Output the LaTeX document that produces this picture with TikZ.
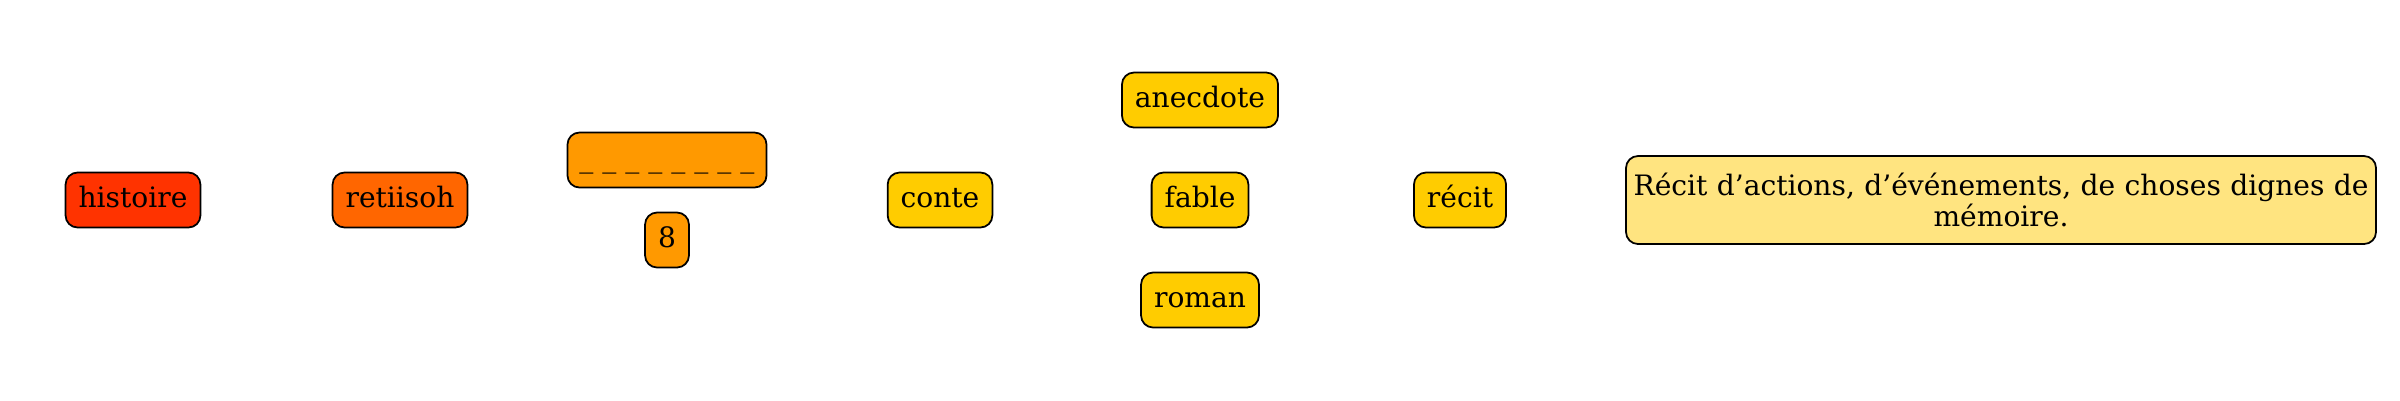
\documentclass[tikz,border=0pt]{standalone}
\usepackage{fontspec}
\setmainfont{DejaVu Serif}
\usepackage{xcolor}
\usetikzlibrary{positioning}
\definecolor{histcol}{HTML}{FF3300}
\definecolor{revcol}{HTML}{FF6600}
\definecolor{hidecol}{HTML}{FF9900}
\definecolor{wordcol}{HTML}{FFCC00}
\definecolor{defcol}{HTML}{FFE480}
\tikzset{
	basebox/.style={draw=black,line width=0.5pt,rectangle,rounded corners=0.12cm,inner ysep=0pt,font=\fontsize{8}{8.7}\selectfont},
	wordbox/.style={basebox,minimum height=0.55cm,inner xsep=0.13cm,text height=6pt,text depth=1.9pt},
}
\begin{document}
\begin{tikzpicture}
	\useasboundingbox (0,0) rectangle (24,4);
	\node (histoire) at (1.33,2) [wordbox,fill=histcol]{histoire};
	\node (retiisoh) at (4.00,2) [wordbox,fill=revcol]{retiisoh};
	\node (hidden) at (6.67,2.40) [wordbox,fill=hidecol,inner xsep=0.12cm]{\_ \_ \_ \_ \_ \_ \_ \_};
	\node (count) at (6.67,1.60) [wordbox,fill=hidecol]{8};
	\node (conte) at (9.40,2) [wordbox,fill=wordcol]{conte};
	\node (anecdote) at (12.00,3) [wordbox,fill=wordcol]{anecdote};
	\node (fable) at (12.00,2) [wordbox,fill=wordcol]{fable};
	\node (roman) at (12.00,1) [wordbox,fill=wordcol]{roman};
	\node (recit) at (14.60,2) [wordbox,fill=wordcol]{récit};
	\node (definition) at (20.01,2) [basebox,fill=defcol,minimum width=7.5cm,minimum height=0.88cm,inner xsep=0.02cm,text width=7.44cm,align=center]{Récit d’actions, d’événements, de choses dignes de\\mémoire.};
\end{tikzpicture}
\end{document}
